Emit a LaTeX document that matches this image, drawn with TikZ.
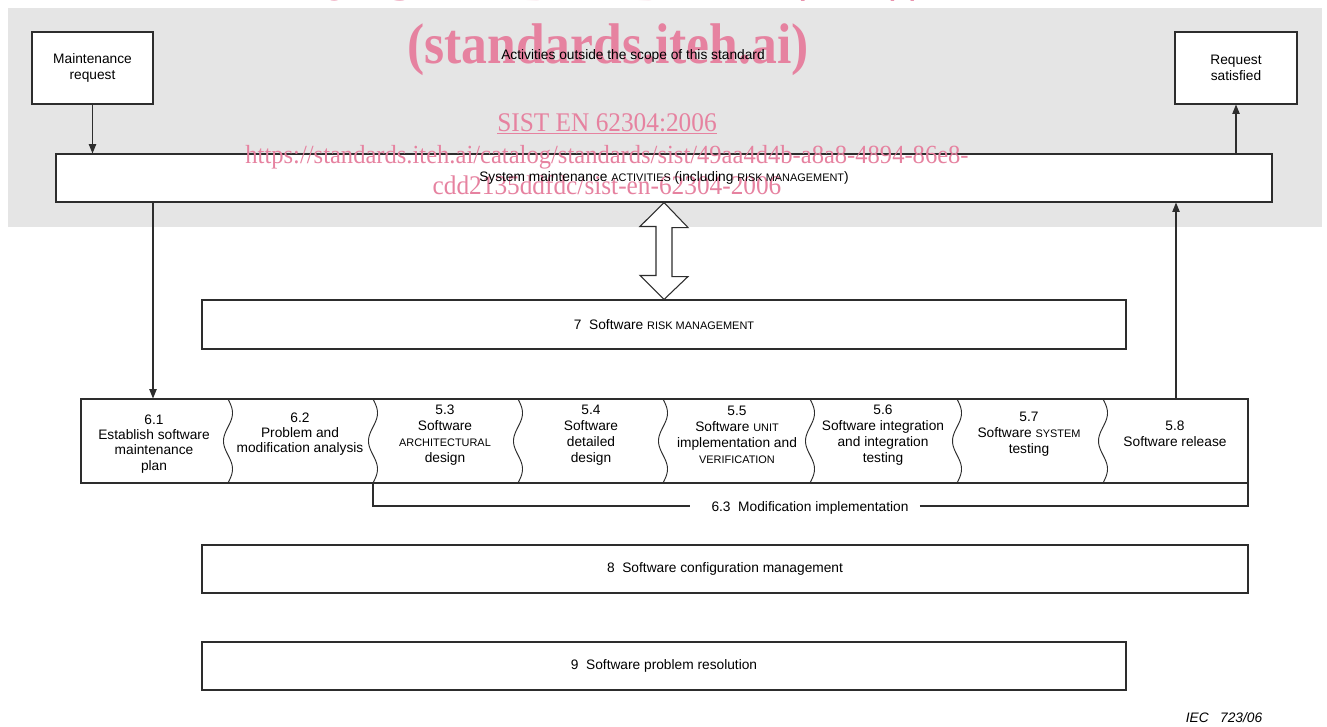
\documentclass[tikz,border=0pt]{standalone}
\usepackage{fontspec}
\setmainfont{Liberation Sans}
\newfontfamily\wmfont{Liberation Serif}
\usetikzlibrary{arrows.meta,calc,fit}
\definecolor{wm}{RGB}{230,130,160}
\definecolor{bggray}{RGB}{229,229,229}
\definecolor{ln}{RGB}{45,45,45}
\newcommand{\sm}[1]{{\fontsize{8.2}{12}\selectfont #1}}
\begin{document}
\begin{tikzpicture}[x=0.75pt,y=-0.75pt,
  font=\fontsize{10.3}{12}\selectfont,
  box/.style={draw=ln, line width=0.8pt, fill=white, inner sep=0pt},
  cell/.style={align=center, inner sep=0pt},
  lnk/.style={draw=ln, line width=0.8pt},
  arr/.style={lnk, -{Triangle[length=7pt,width=5.5pt]}},
  wmtxt/.style={text=wm, inner sep=0pt, anchor=base},
  wavy/.style={draw=ln, line width=0.7pt}]
\useasboundingbox (0,0) rectangle (1327,726);
\clip (0,0) rectangle (1327,726);
\fill[white] (0,0) rectangle (1327,726);

% region outside scope
\node[fit={(8,8) (1322,227)}, fill=bggray, inner sep=0pt] (outside) {};

% boxes
\node[box, fit={(32,32) (153,104)}] (mr) {};
\node[box, fit={(1175,32) (1297,104)}] (rs) {};
\node[box, fit={(56,154) (1272,202)}] (sys) {};
\node[box, fit={(202,300) (1126,349)}] (risk) {};
\node[box, fit={(81,399) (1248,483)}] (strip) {};
\node[box, fit={(202,545) (1248,593)}] (cfg) {};
\node[box, fit={(202,642) (1126,690)}] (prb) {};

% watermark
\node[wmtxt, xscale=0.9, font=\wmfont\bfseries\fontsize{43}{44}\selectfont] (wm1) at (603,0.5) {iTeh STANDARD PREVIEW};
\node[wmtxt, xscale=0.9, font=\wmfont\bfseries\fontsize{43}{44}\selectfont] (wm2) at (608,63) {(standards.iteh.ai)};
\node[wmtxt, xscale=0.94, font=\wmfont\fontsize{20.2}{21}\selectfont] (wm3) at (607,131) {\underline{SIST EN 62304:2006}};
\node[wmtxt, xscale=0.94, font=\wmfont\fontsize{19.6}{21}\selectfont] (wm4) at (607,163) {https://standards.iteh.ai/catalog/standards/sist/49aa4d4b-a8a8-4894-86e8-};
\node[wmtxt, xscale=0.94, font=\wmfont\fontsize{20.2}{21}\selectfont] (wm5) at (607,194) {cdd2135ddfdc/sist-en-62304-2006};

% box texts
\node[cell] (mrt) at (mr.center) {Maintenance\\request};
\node[cell] (rst) at (rs.center) {Request\\satisfied};
\node[cell] (outtxt) at (633,56) {Activities outside the scope of this standard};
\node[cell] (systxt) at (sys.center) {System maintenance \sm{ACTIVITIES} (including \sm{RISK MANAGEMENT})};
\node[cell] (riskt) at (risk.center) {7\ \ Software \sm{RISK MANAGEMENT}};
\node[cell] (cfgt) at (cfg.center) {8\ \ Software configuration management};
\node[cell] (prbt) at (prb.center) {9\ \ Software problem resolution};

% wavy dividers
\foreach \xx in {228,373,518,663,810,957,1103}{
  \draw[wavy, domain=0:1, samples=50, variable=\t, smooth] plot ({\xx+4.5*sin(540*\t)}, {399+84*\t});
}

% cell texts
\node[cell, font=\fontsize{10.3}{11.4}\selectfont] (c61) at (154,444) {6.1\\Establish software\\maintenance\\plan};
\node[cell, font=\fontsize{10.3}{11.4}\selectfont] (c62) at (300,434) {6.2\\Problem and\\modification analysis};
\node[cell] (c53) at (445,435) {5.3\\Software\\\sm{ARCHITECTURAL}\\design};
\node[cell] (c54) at (591,435) {5.4\\Software\\detailed\\design};
\node[cell] (c55) at (737,435) {5.5\\Software \sm{UNIT}\\implementation and\\\sm{VERIFICATION}};
\node[cell] (c56) at (883,435) {5.6\\Software integration\\and integration\\testing};
\node[cell] (c57) at (1029,434) {5.7\\Software \sm{SYSTEM}\\testing};
\node[cell] (c58) at (1175,434) {5.8\\Software release};

% modification implementation bracket
\node[cell] (mod) at (810,508) {6.3\ \ Modification implementation};
\coordinate (xl) at (373,0);
\coordinate (xr) at (1248,0);
\coordinate (ybr) at (0,506);
\draw[lnk] (strip.south -| xl) -- (xl |- ybr) -- ([xshift=-15.75pt]mod.west |- ybr);
\draw[lnk] ([xshift=8.25pt]mod.east |- ybr) -- (xr |- ybr) -- (strip.south -| xr);

% connectors
\coordinate (x61) at (153,0);
\coordinate (x58) at (1176,0);
\draw[arr] (mr.south) -- (mr.south |- sys.north);
\draw[arr] (rs.south |- sys.north) -- (rs.south);
\draw[arr] (sys.south -| x61) -- (strip.north -| x61);
\draw[arr] (strip.north -| x58) -- (sys.south -| x58);

% double arrow between system maintenance and risk management
\draw[lnk, fill=white, line join=miter] (sys.south) -- ++(24,25) -- ++(-16,0) -- ++(0,49) -- ++(16,0)
  -- (risk.north) -- ++(-24,-24) -- ++(16,0) -- ++(0,-49) -- ++(-16,0) -- cycle;

% figure reference
\node[cell, font=\itshape\fontsize{10.3}{12}\selectfont] (iec) at (1224,718) {IEC\ \ \ 723/06};
\end{tikzpicture}
\end{document}
